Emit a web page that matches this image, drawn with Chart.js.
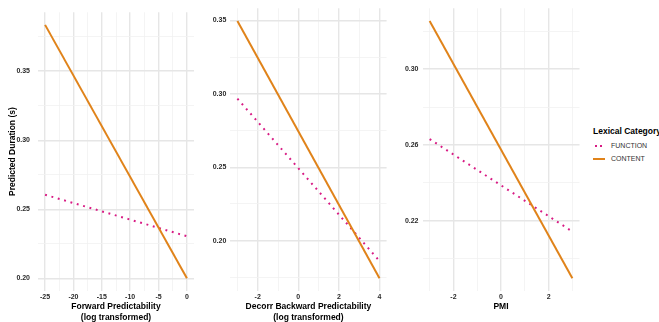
<!DOCTYPE html>
<html>
<head>
<meta charset="utf-8">
<script src="https://cdn.jsdelivr.net/npm/chart.js@4.4.1/dist/chart.umd.min.js"></script>
<style>
  html, body { margin: 0; padding: 0; background: #fff; }
  body { width: 659px; height: 322px; overflow: hidden; position: relative; font-family: "Liberation Sans", Arial, sans-serif; }
  .panel { position: absolute; top: 0; }
  .legend-title { position: absolute; left: 593px; top: 125px; font-size: 8.5px; font-weight: bold; color: #000; white-space: nowrap; line-height: 12px; }
  .legend-item { position: absolute; left: 611px; font-size: 7px; color: #333; line-height: 10px; }
  .key { position: absolute; }
</style>
</head>
<body>
<canvas id="p1" class="panel" width="196" height="324" style="left:0px"></canvas>
<canvas id="p2" class="panel" width="192" height="324" style="left:196px"></canvas>
<canvas id="p3" class="panel" width="193" height="324" style="left:388px"></canvas>
<div id="legend"></div>

<script>
const seriesNames = ['FUNCTION', 'CONTENT'];
const seriesColors = ['#D81B84', '#E0831A'];

// Forward Predictability panel
const fwdX = [-25, 0];
const fwdFunction = [0.2605, 0.2305];
const fwdContent = [0.3835, 0.2000];
const fwdXMajor = [-25, -20, -15, -10, -5, 0];
const fwdXMinor = [-22.5, -17.5, -12.5, -7.5, -2.5];
const fwdYMajor = [0.20, 0.25, 0.30, 0.35];
const fwdYMinor = [0.225, 0.275, 0.325, 0.375];

// Decorr Backward Predictability panel
const bwdX = [-3, 4];
const bwdFunction = [0.2967, 0.1862];
const bwdContent = [0.3495, 0.1745];
const bwdXMajor = [-2, 0, 2, 4];
const bwdXMinor = [-3, -1, 1, 3];
const bwdYMajor = [0.20, 0.25, 0.30, 0.35];
const bwdYMinor = [0.175, 0.225, 0.275, 0.325];

// PMI panel
const pmiX = [-3, 3];
const pmiFunction = [0.2631, 0.2143];
const pmiContent = [0.3254, 0.1897];
const pmiXMajor = [-2, 0, 2];
const pmiXMinor = [-3, -1, 1, 3];
const pmiYMajor = [0.22, 0.26, 0.30];
const pmiYMinor = [0.20, 0.24, 0.28, 0.32];

Chart.defaults.font.family = '"Liberation Sans", Arial, sans-serif';
Chart.defaults.animation = false;

function expand(values) {
    let lo = Math.min(...values), hi = Math.max(...values);
    let pad = (hi - lo) * 0.05;
    return [lo - pad, hi + pad];
}

function makeAxis(major, minor, digits, range, extra) {
    const all = major.concat(minor).sort((a, b) => a - b);
    const isMajor = v => major.some(m => Math.abs(m - v) < 1e-9);
    return Object.assign({
        type: 'linear',
        min: range[0],
        max: range[1],
        afterBuildTicks: scale => { scale.ticks = all.map(v => ({ value: v })); },
        border: { display: false },
        grid: {
            drawTicks: false,
            color: ctx => isMajor(ctx.tick.value) ? '#E6E6E6' : '#F1F1F1',
            lineWidth: ctx => isMajor(ctx.tick.value) ? 1.4 : 0.8
        },
        ticks: {
            autoSkip: false,
            maxRotation: 0,
            color: '#2a2a2a',
            font: { size: 7, weight: 'bold' },
            callback: v => isMajor(v) ? v.toFixed(digits) : ''
        }
    }, extra);
}

function makePanel(id, xs, fn, ct, xMajor, xMinor, yMajor, yMinor, yDigits, xTitle, yWidth, yPad, yTitle, rightPad, titleBottom) {
    const xRange = expand(xs);
    const yRange = expand(fn.concat(ct));
    const yAxis = makeAxis(yMajor, yMinor, yDigits, yRange, {
        afterFit: s => { s.width = yWidth; },
        title: yTitle ? {
            display: true, text: yTitle, color: '#000',
            font: { size: 8.5, weight: 'bold' }, padding: { top: 8, bottom: 0 }
        } : { display: false }
    });
    yAxis.ticks.padding = yPad;
    const xAxis = makeAxis(xMajor, xMinor, 0, xRange, {
        afterFit: s => { s.height = 33; },
        title: {
            display: true, text: xTitle, color: '#000',
            font: { size: 8.5, weight: 'bold', lineHeight: 1.3 },
            padding: { top: 0, bottom: titleBottom }
        }
    });
    xAxis.ticks.padding = 2;

    new Chart(document.getElementById(id), {
        type: 'line',
        data: {
            datasets: [
                {
                    label: seriesNames[0],
                    data: xs.map((x, i) => ({ x: x, y: fn[i] })),
                    borderColor: seriesColors[0],
                    borderWidth: 2,
                    borderDash: [1.9, 4.7],
                    borderCapStyle: 'butt',
                    pointRadius: 0,
                    order: 1
                },
                {
                    label: seriesNames[1],
                    data: xs.map((x, i) => ({ x: x, y: ct[i] })),
                    borderColor: seriesColors[1],
                    borderWidth: 2,
                    pointRadius: 0,
                    order: 0
                }
            ]
        },
        options: {
            responsive: false,
            devicePixelRatio: 1,
            layout: { padding: { top: 2, right: rightPad, left: 0, bottom: 0 } },
            plugins: { legend: { display: false }, tooltip: { enabled: false } },
            scales: { x: xAxis, y: yAxis }
        }
    });
}

makePanel('p1', fwdX, fwdFunction, fwdContent, fwdXMajor, fwdXMinor, fwdYMajor, fwdYMinor, 2,
    ['Forward Predictability', '(log transformed)'], 38, 8, 'Predicted Duration (s)', 2, 0.5);
makePanel('p2', bwdX, bwdFunction, bwdContent, bwdXMajor, bwdXMinor, bwdYMajor, bwdYMinor, 2,
    ['Decorr Backward Predictability', '(log transformed)'], 34.3, 4, null, 1.4, 0.5);
makePanel('p3', pmiX, pmiFunction, pmiContent, pmiXMajor, pmiXMinor, pmiYMajor, pmiYMinor, 2,
    'PMI', 34.5, 4, null, 1.5, 11.5);

// legend
const legend = document.getElementById('legend');
const title = document.createElement('div');
title.className = 'legend-title';
title.textContent = 'Lexical Category';
legend.append(title);
const itemTops = [141, 154];
for (let i = 0; i < seriesNames.length; i++) {
    const key = document.createElement('div');
    key.className = 'key';
    if (i === 0) {
        key.style.cssText = `left:595px;top:${itemTops[i] + 4}px;width:8px;height:2px;` +
            `background:repeating-linear-gradient(to right, ${seriesColors[i]} 0 2px, transparent 2px 5px);`;
    } else {
        key.style.cssText = `left:593px;top:${itemTops[i] + 4}px;width:12px;height:2px;background:${seriesColors[i]};`;
    }
    legend.append(key);
    const label = document.createElement('div');
    label.className = 'legend-item';
    label.style.top = itemTops[i] + 'px';
    label.textContent = seriesNames[i];
    legend.append(label);
}
</script>
</body>
</html>
